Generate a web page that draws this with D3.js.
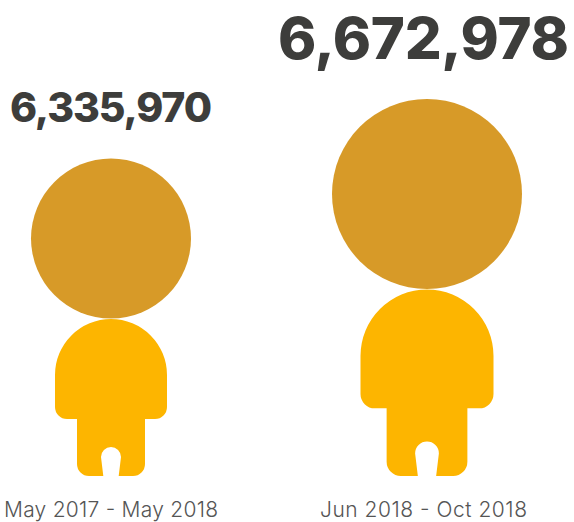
<!DOCTYPE html>
<html><head><meta charset="utf-8">
<script src="https://cdn.jsdelivr.net/npm/d3@7/dist/d3.min.js"></script>
<style>html,body{margin:0;padding:0;background:#fff}svg{display:block}</style>
</head><body><svg id="c" width="574" height="522"></svg>
<script>
const periods = ["May 2017 - May 2018", "Jun 2018 - Oct 2018"];
const visitors = [6335970, 6672978];
const labelCenters = [111, 423.5];
const figureCenters = [111, 427];
const valueFontSizes = [41, 58];
const valueBaselines = [121.5, 59];
const valueWidths = [202, 291];
const periodWidths = [214, 207];

const svg = d3.select("#c");
const radius = d3.scaleLinear().domain(visitors).range([80, 95]);
const fmt = d3.format(",");
const baseY = 476;

// body outline in units of a figure with head radius 80, origin at feet centre
function body(s){
  const p = d3.path(), u = v => v * s;
  const hw = u(56), lw = u(34), top = -u(157), sh = -u(57), r = u(12), fr = u(12);
  const nt = -u(29), nw = u(10), nb = u(7.7);
  p.moveTo(-hw, top + hw);
  p.arc(0, top + hw, hw, Math.PI, 2 * Math.PI);
  p.lineTo(hw, sh - r);
  p.arcTo(hw, sh, hw - r, sh, r);
  p.lineTo(lw, sh);
  p.lineTo(lw, -fr);
  p.arcTo(lw, 0, lw - fr, 0, fr);
  p.lineTo(nb, 0);
  p.lineTo(nw, nt + nw);
  p.arc(0, nt + nw, nw, 0, Math.PI, true);
  p.lineTo(-nb, 0);
  p.lineTo(-lw + fr, 0);
  p.arcTo(-lw, 0, -lw, -fr, fr);
  p.lineTo(-lw, sh);
  p.lineTo(-hw + r, sh);
  p.arcTo(-hw, sh, -hw, sh - r, r);
  p.closePath();
  return p.toString();
}

visitors.forEach((v, i) => {
  const R = radius(v), s = R / 80, cx = figureCenters[i];
  svg.append("path").attr("transform", `translate(${cx},${baseY})`).attr("d", body(s)).attr("fill", "#FDB500");
  svg.append("circle").attr("cx", cx).attr("cy", baseY - 237.5 * s).attr("r", R).attr("fill", "#D79A28");
  svg.append("text").attr("x", labelCenters[i]).attr("y", valueBaselines[i])
    .attr("text-anchor", "middle").attr("font-family", "Inter").attr("font-weight", 800)
    .attr("font-size", valueFontSizes[i]).attr("fill", "#3D3D3B")
    .attr("textLength", valueWidths[i]).attr("lengthAdjust", "spacing").text(fmt(v));
  svg.append("text").attr("x", labelCenters[i]).attr("y", 517)
    .attr("text-anchor", "middle").attr("font-family", "Inter").attr("font-weight", 300)
    .attr("font-size", 21).attr("fill", "#555")
    .attr("textLength", periodWidths[i]).attr("lengthAdjust", "spacing").text(periods[i]);
});
</script></body></html>
